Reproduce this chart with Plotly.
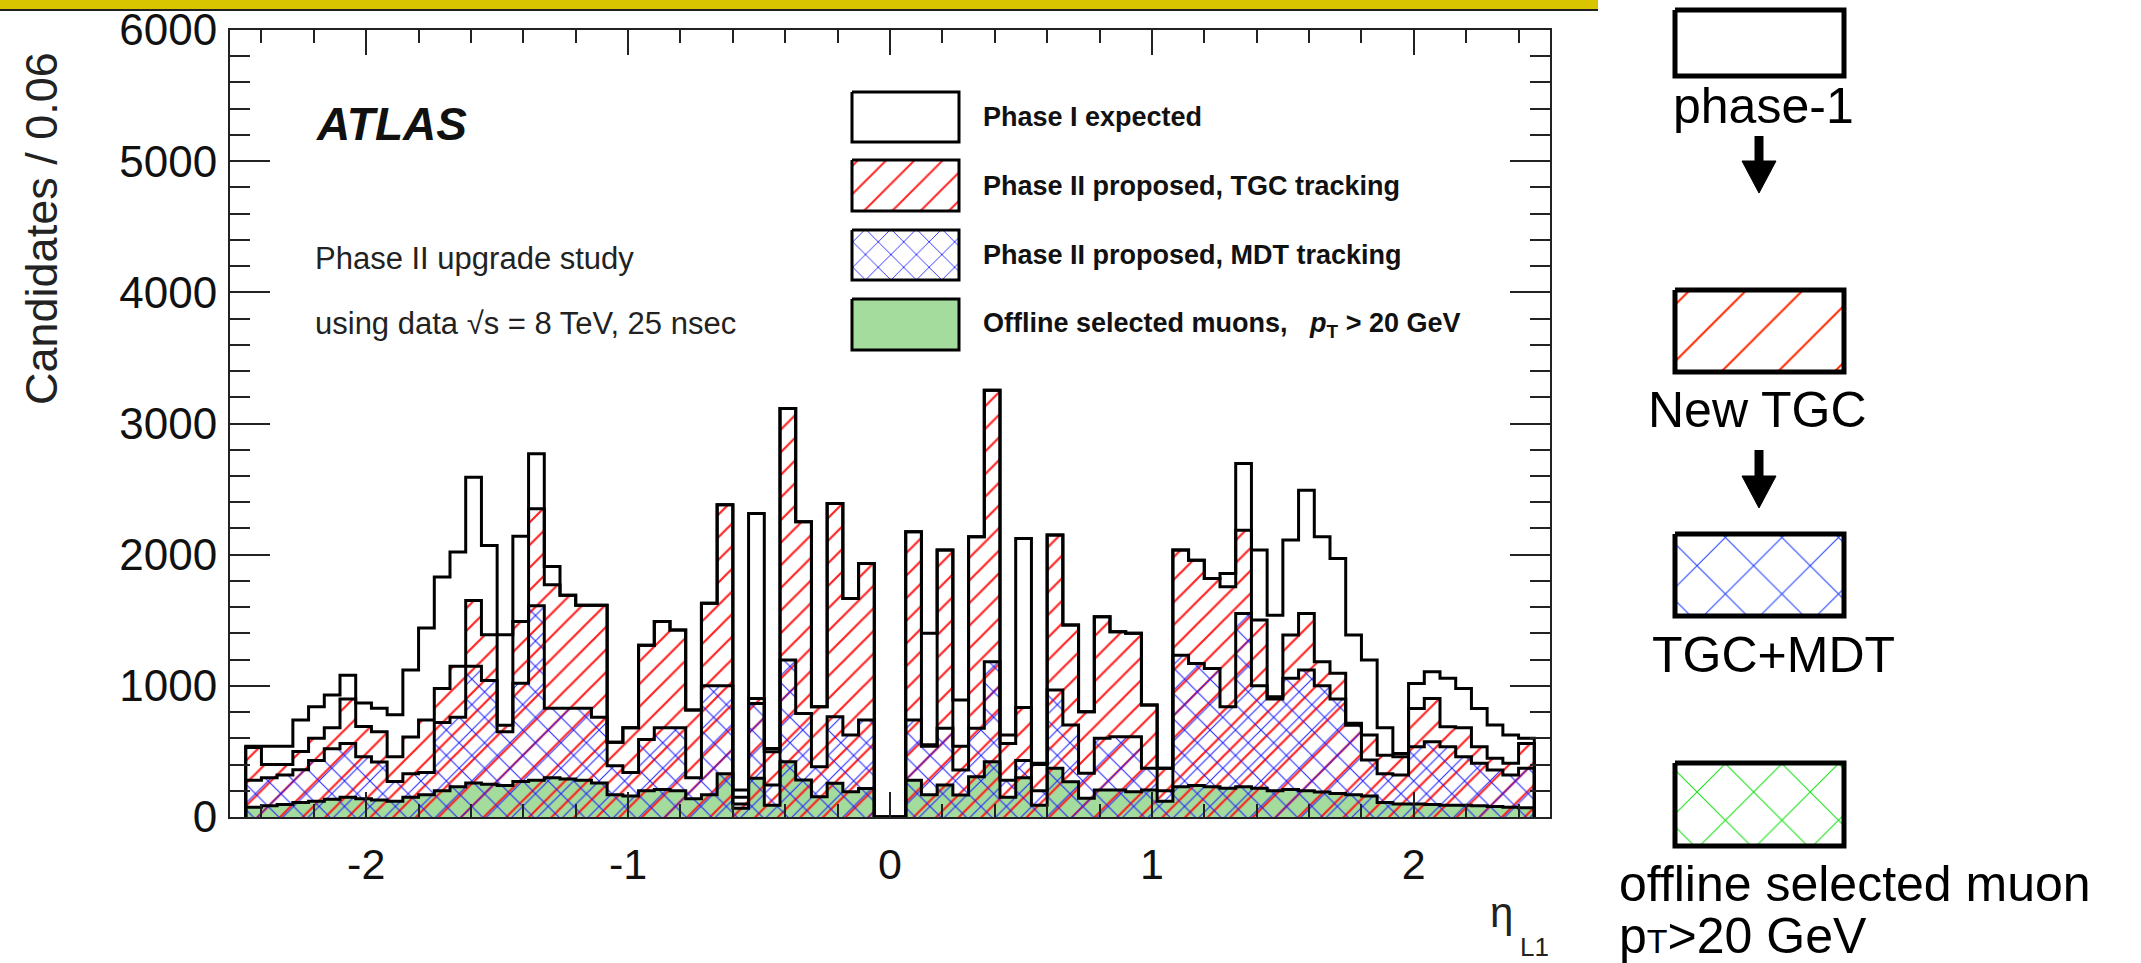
import plotly.graph_objects as go

W, H = 2141, 963
PL, PR, PT, PB = 230, 1550, 30, 817  # plot frame (pixels)
FONT = "Liberation Sans, Arial, Helvetica, sans-serif"

# ---------------- data (eta bins of width 0.06 starting at -2.46) ----------------
bin_low = -2.46
bin_width = 0.06

phase1 = [540, 540, 540, 740, 840, 930, 1080, 870, 830, 780,
          1120, 1440, 1830, 2020, 2590, 2070, 1390, 2140, 2770, 1910,
          1690, 1615, 1615, 570, 680, 1310, 1490, 1425, 815, 1630,
          2380, 206, 2314, 523, 3114, 2250, 841, 2390, 1666, 1933,
          0, 0,
          2174, 1400, 2035, 892, 2136, 3254, 625, 2123, 410, 2149,
          1463, 803, 1527, 1412, 1400, 853, 371, 2035, 1958, 1819,
          1857, 2695, 2035, 1539, 2111, 2492, 2136, 1971, 1387, 1196,
          680, 485, 1018, 1107, 1057, 980, 828, 701, 625, 600]

tgc = [530, 400, 400, 500, 600, 680, 900, 690, 650, 460,
       610, 740, 980, 1150, 1650, 1390, 700, 1490, 2350, 1770,
       1690, 1615, 1615, 570, 680, 1310, 1490, 1425, 815, 1630,
       2380, 150, 904, 498, 3114, 2250, 841, 2390, 1666, 1933,
       0, 0,
       2174, 550, 2035, 540, 2136, 3254, 560, 835, 400, 2149,
       1463, 803, 1527, 1412, 1400, 853, 371, 2035, 1958, 1819,
       1755, 2187, 1501, 917, 1387, 1552, 1184, 1095, 714, 625,
       470, 460, 828, 904, 688, 680, 536, 447, 409, 560]

mdt = [280, 300, 320, 360, 430, 520, 560, 460, 420, 270,
       330, 340, 720, 760, 1150, 1040, 650, 1020, 1610, 830,
       830, 830, 760, 390, 340, 590, 680, 680, 300, 1000,
       1000, 100, 866, 244, 1196, 790, 384, 765, 625, 739,
       0, 0,
       740, 540, 676, 358, 676, 1184, 280, 430, 200, 968,
       701, 333, 600, 612, 612, 371, 200, 1234, 1171, 1133,
       841, 1552, 1000, 900, 1057, 1120, 1000, 900, 700, 434,
       330, 320, 536, 574, 536, 460, 409, 358, 320, 371]

offline = [75, 85, 95, 110, 120, 135, 150, 140, 130, 120,
           150, 170, 200, 230, 260, 250, 240, 270, 280, 300,
           290, 280, 260, 170, 160, 200, 210, 200, 140, 170,
           330, 66, 295, 90, 422, 282, 155, 257, 193, 218,
           0, 0,
           280, 170, 244, 168, 307, 422, 150, 300, 90, 371,
           269, 142, 206, 206, 193, 206, 120, 231, 240, 230,
           220, 230, 220, 200, 210, 200, 190, 180, 170, 160,
           110, 100, 100, 95, 90, 90, 85, 80, 75, 70]

x_tick_vals = [-2, -1, 0, 1, 2]
x_tick_text = ["-2", "-1", "0", "1", "2"]
y_tick_vals = [0, 1000, 2000, 3000, 4000, 5000, 6000]

legend_labels = [
    "<b>Phase I expected</b>",
    "<b>Phase II proposed, TGC tracking</b>",
    "<b>Phase II proposed, MDT tracking</b>",
    "<b>Offline selected muons,\u00a0\u00a0\u00a0<i>p</i><sub>T</sub> &gt; 20 GeV</b>",
]
flow_labels = ["phase-1", "New TGC", "TGC+MDT", "offline selected muon",
               "p<span style='font-size:34px'>T</span>&gt;20 GeV"]

# ---------------- colours ----------------
GREEN = "#a3dc9c"
RED = "rgba(255,25,25,0.95)"
BLUE = "rgba(30,30,255,0.95)"


def step_xy(vals):
    edges = [bin_low + i * bin_width for i in range(len(vals) + 1)]
    xs = [edges[0]] + edges
    ys = [0] + list(vals) + [0]
    return xs, ys


fig = go.Figure()

NOLINE = dict(shape="hv", width=0, color="rgba(0,0,0,0)")
# fills
xs, ys = step_xy(offline)
fig.add_trace(go.Scatter(x=xs, y=ys, mode="lines", line=NOLINE,
                         fill="tozeroy", fillcolor=GREEN, hoverinfo="skip"))
xs, ys = step_xy(tgc)
fig.add_trace(go.Scatter(x=xs, y=ys, mode="lines", line=NOLINE,
                         fill="tozeroy", fillcolor="rgba(0,0,0,0)",
                         fillpattern=dict(shape="/", fgcolor=RED, bgcolor="rgba(0,0,0,0)",
                                          size=16, solidity=0.14, fillmode="replace"),
                         hoverinfo="skip"))
xs, ys = step_xy(mdt)
fig.add_trace(go.Scatter(x=xs, y=ys, mode="lines", line=NOLINE,
                         fill="tozeroy", fillcolor="rgba(0,0,0,0)",
                         fillpattern=dict(shape="x", fgcolor=BLUE, bgcolor="rgba(0,0,0,0)",
                                          size=18, solidity=0.12, fillmode="replace"),
                         hoverinfo="skip"))
# outlines
for vals in (offline, mdt, tgc, phase1):
    xs, ys = step_xy(vals)
    fig.add_trace(go.Scatter(x=xs, y=ys, mode="lines", line=dict(shape="hv", width=3, color="black"),
                             hoverinfo="skip"))


# ---------------- pixel-space helpers (x2/y2 axes span the whole page) ----------------
def rect_xy(x0, y0, x1, y1):
    return [x0, x1, x1, x0, x0], [y0, y0, y1, y1, y0]


def swatch(x0, y0, x1, y1, fillcolor, pattern=None, lw=3):
    rx, ry = rect_xy(x0, y0, x1, y1)
    kw = {}
    if pattern is not None:
        kw["fillpattern"] = pattern
    fig.add_trace(go.Scatter(x=rx, y=ry, xaxis="x2", yaxis="y2", mode="lines", fill="toself",
                             fillcolor=fillcolor, line=dict(color="black", width=lw),
                             hoverinfo="skip", **kw))


# in-plot legend
leg_boxes = [(92, 142), (160, 211), (230, 280), (299, 350)]
swatch(852, leg_boxes[0][0], 959, leg_boxes[0][1], "white")
swatch(852, leg_boxes[1][0], 959, leg_boxes[1][1], "rgba(0,0,0,0)",
       dict(shape="/", fgcolor=RED, bgcolor="rgba(0,0,0,0)", size=20, solidity=0.1, fillmode="replace"))
swatch(852, leg_boxes[2][0], 959, leg_boxes[2][1], "rgba(0,0,0,0)",
       dict(shape="x", fgcolor=BLUE, bgcolor="rgba(0,0,0,0)", size=18, solidity=0.1, fillmode="replace"))
swatch(852, leg_boxes[3][0], 959, leg_boxes[3][1], GREEN)

# right panel boxes
rb = [(10, 76), (290, 372), (534, 616), (763, 846)]
swatch(1675, rb[0][0], 1844, rb[0][1], "white", lw=5)
swatch(1675, rb[1][0], 1844, rb[1][1], "rgba(0,0,0,0)",
       dict(shape="/", fgcolor="#ff2a00", bgcolor="rgba(0,0,0,0)", size=40, solidity=0.05, fillmode="replace"), lw=5)
swatch(1675, rb[2][0], 1844, rb[2][1], "rgba(0,0,0,0)",
       dict(shape="x", fgcolor="#1a3cff", bgcolor="rgba(0,0,0,0)", size=40, solidity=0.05, fillmode="replace"), lw=5)
swatch(1675, rb[3][0], 1844, rb[3][1], "rgba(0,0,0,0)",
       dict(shape="x", fgcolor="#11dd11", bgcolor="rgba(0,0,0,0)", size=40, solidity=0.05, fillmode="replace"), lw=5)

# ---------------- annotations ----------------
ann = []


def text(t, x, y, size, xanchor="left", yanchor="middle", color="#111", angle=0, family=FONT):
    ann.append(dict(text=t, x=x, y=y, xref="x2", yref="y2", xanchor=xanchor, yanchor=yanchor,
                    showarrow=False, textangle=angle, font=dict(size=size, color=color, family=family)))


text("<b><i>ATLAS</i></b>", 314, 124, 46)
text("Phase II upgrade study", 313, 258, 31, color="#222")
text("using data \u221as = 8 TeV, 25 nsec", 313, 323, 31, color="#222")
for lab, (y0, y1) in zip(legend_labels, leg_boxes):
    text(lab, 981, (y0 + y1) / 2, 27)
text("Candidates / 0.06", 41, 229, 45, xanchor="center", angle=-90, color="#222")
text("\u03b7", 1501, 912, 42, xanchor="center", color="#222")
text("L1", 1534, 947, 26, xanchor="center", color="#222")

text(flow_labels[0], 1763, 106, 50, xanchor="center", color="black")
text(flow_labels[1], 1757, 410, 50, xanchor="center", color="black")
text(flow_labels[2], 1773, 655, 50, xanchor="center", color="black")
text(flow_labels[3], 1617, 884, 50, color="black")
text(flow_labels[4], 1617, 936, 50, color="black")

# ---------------- shapes: arrows, top banner ----------------
shapes = []
for (ys0, ys1) in [(136, 167), (450, 482)]:
    shapes.append(dict(type="line", xref="x2", yref="y2", x0=1759, x1=1759, y0=ys0, y1=ys1,
                       line=dict(color="black", width=9)))
    shapes.append(dict(type="path", xref="x2", yref="y2",
                       path=f"M 1742 {ys1 - 6} L 1776 {ys1 - 6} L 1759 {ys1 + 26} Z",
                       fillcolor="black", line=dict(color="black", width=1)))
shapes.append(dict(type="rect", xref="x2", yref="y2", x0=0, x1=1598, y0=0, y1=9,
                   fillcolor="#d9c400", line=dict(width=0)))
shapes.append(dict(type="line", xref="x2", yref="y2", x0=0, x1=1598, y0=10, y1=10,
                   line=dict(color="#222", width=2)))

axis_common = dict(showgrid=False, zeroline=False, showline=True, linecolor="#222", linewidth=2,
                   mirror="allticks", ticks="inside", tickcolor="#222", tickwidth=2, automargin=False)

fig.update_layout(
    width=W, height=H, margin=dict(l=0, r=0, t=0, b=0, pad=0), autosize=False,
    paper_bgcolor="white", plot_bgcolor="rgba(0,0,0,0)", showlegend=False,
    xaxis=dict(domain=[PL / W, PR / W], range=[-2.52, 2.52], tickmode="array",
               tickvals=x_tick_vals, ticktext=x_tick_text, ticklen=25,
               tickfont=dict(size=43, color="#111", family=FONT), ticklabelstandoff=8,
               minor=dict(tickmode="linear", tick0=0, dtick=0.2, ticks="inside", ticklen=13,
                          tickwidth=2, tickcolor="#222", showgrid=False),
               **axis_common),
    yaxis=dict(domain=[1 - PB / H, 1 - PT / H], range=[0, 6000], tickmode="array",
               tickvals=y_tick_vals, ticklen=40, tickformat="d",
               tickfont=dict(size=44, color="#111", family=FONT), ticklabelstandoff=2,
               minor=dict(tickmode="linear", tick0=0, dtick=200, ticks="inside", ticklen=20,
                          tickwidth=2, tickcolor="#222", showgrid=False),
               **axis_common),
    xaxis2=dict(domain=[0, 1], range=[0, W], visible=False, anchor="y2", fixedrange=True, automargin=False),
    yaxis2=dict(domain=[0, 1], range=[H, 0], visible=False, anchor="x2", fixedrange=True, automargin=False),
    annotations=ann, shapes=shapes,
)

fig.write_html("out.html", config={"displayModeBar": False, "staticPlot": True},
               post_script="document.body.style.margin='0px';document.body.style.overflow='hidden';")
